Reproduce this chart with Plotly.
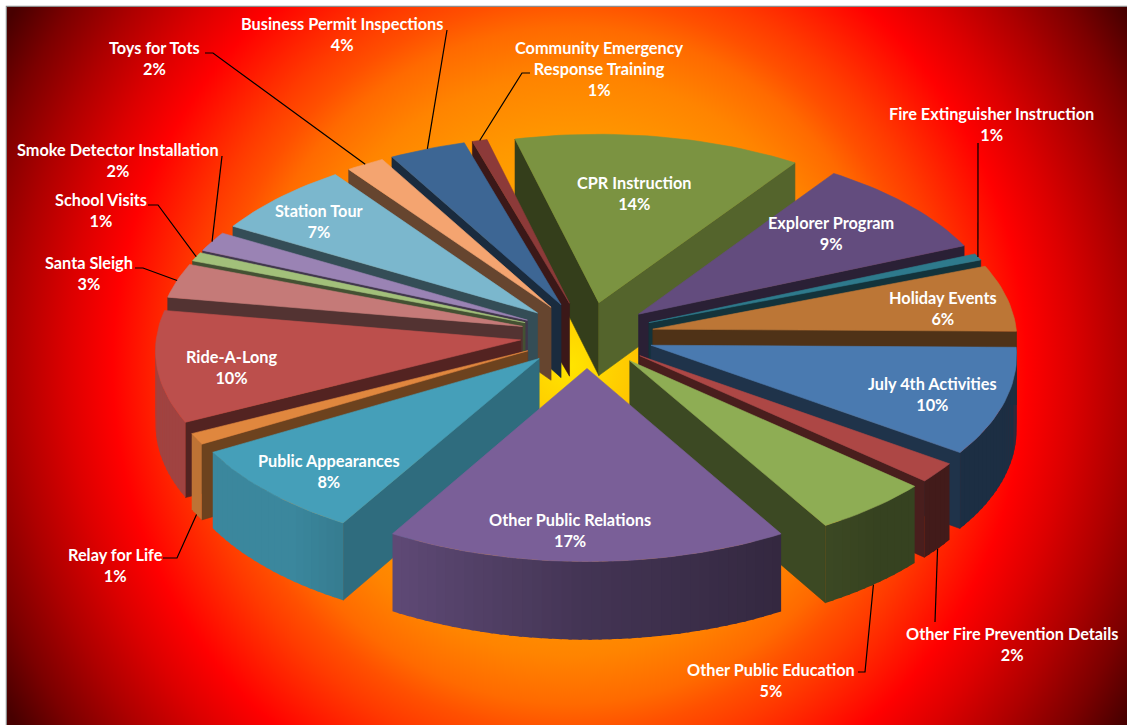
import base64
import numpy as np
import plotly.graph_objects as go

# ---- data ----
names = ["CPR Instruction", "Explorer Program", "Fire Extinguisher Instruction", "Holiday Events",
         "July 4th Activities", "Other Fire Prevention Details", "Other Public Education",
         "Other Public Relations", "Public Appearances", "Relay for Life", "Ride-A-Long",
         "Santa Sleigh", "School Visits", "Smoke Detector Installation", "Station Tour",
         "Toys for Tots", "Business Permit Inspections", "Community Emergency<br>Response Training"]
values = [13.5, 9.0, 0.6, 6.0, 9.6, 1.8, 5.0, 16.9, 8.2, 1.0, 10.0, 3.1, 0.8, 1.8, 6.7, 1.8, 3.6, 0.7]
top_colors = ["#7b9341", "#634c7e", "#2e7a8c", "#bc7636", "#4a7ab0", "#ad4745", "#8ead54", "#7a5f98", "#459fb9",
              "#e0873e", "#bc4f4c", "#c57a78", "#a2c07a", "#9a83b4", "#7bb7cd", "#f4a470", "#3d6694", "#8c3a39"]

# ---- label layout (pixel space of the figure) ----
label_x = [634, 831, 991, 943, 932, 1012, 771, 570, 329, 115, 231, 89, 101, 118, 319, 154, 342, 599]
label_y = [193, 233, 124, 308, 394, 644, 680, 530, 471, 565, 367, 273, 210, 160, 221, 58, 34, 68]
# leader start points for outside labels: slice index -> polyline before reaching the slice
leaders = {
    15: [(205, 53), (213, 53)],
    16: [(447, 30)],
    17: [(530, 73), (522, 73)],
    2: [(978, 143), (978, 200)],
    5: [(935, 622)],
    6: [(858, 672), (865, 672)],
    9: [(163, 558), (177, 558)],
    11: [(135, 268), (143, 268)],
    12: [(148, 205), (158, 205)],
    13: [(222, 156)],
}

# ---- projection of the tilted pie ----
W, H = 1127, 725
CX, CY, RX, RY = 587, 335, 364, 180
K, EXPLODE, DEPTH = 0.05, 0.184, 73.5
START = -14.0


def proj(u, v, drop=0.0):
    s = 1 / (1 - K * v)
    return CX + RX * u * s, CY + RY * v * s + drop * s


def shade(hex_color, f):
    r, g, b = (int(hex_color[i:i + 2], 16) for i in (1, 3, 5))
    return f"rgb({r * f:.0f},{g * f:.0f},{b * f:.0f})"


def polar(t):
    a = np.radians(t)
    return np.sin(a), -np.cos(a)


fig = go.Figure()


def poly(xs, ys, color, lw=0.6):
    fig.add_trace(go.Scatter(x=list(xs), y=list(ys), mode="lines", fill="toself", fillcolor=color,
                             line=dict(color=color, width=lw), hoverinfo="skip", showlegend=False))


total = sum(values)
edges = START + np.concatenate([[0], np.cumsum(values)]) / total * 360
mids = (edges[:-1] + edges[1:]) / 2
order = sorted(range(len(values)), key=lambda i: polar(mids[i])[1])


def cut_factor(n):
    return float(np.interp(n % 360, [0, 100, 112, 135, 155, 360], [.42, .40, .68, .68, .42, .42]))


def rim_factor(t):
    return float(np.interp(t % 360, [90, 140, 180, 220, 270], [.38, .38, .55, .85, .85]))


for i in order:
    a, b = edges[i], edges[i + 1]
    ox, oy = polar(mids[i])
    ox, oy = ox * EXPLODE, oy * EXPLODE
    col = top_colors[i]
    apex = proj(ox, oy)
    ts = np.linspace(a, b, max(3, int((b - a) / 1.5) + 2))
    pts = [polar(t) for t in ts]
    rim = [proj(ox + p[0], oy + p[1]) for p in pts]
    interior = rim[len(rim) // 2]

    # radial cut faces
    for t, sgn in ((a, -1), (b, 1)):
        pu, pv = polar(t)
        R = proj(ox + pu, oy + pv)
        Rd = proj(ox + pu, oy + pv, DEPTH)
        Ad = proj(ox, oy, DEPTH)
        ex, ey = R[0] - apex[0], R[1] - apex[1]
        side_drop = ex * DEPTH
        side_in = ex * (interior[1] - apex[1]) - ey * (interior[0] - apex[0])
        if side_drop * side_in < 0:
            poly([apex[0], R[0], Rd[0], Ad[0], apex[0]], [apex[1], R[1], Rd[1], Ad[1], apex[1]],
                 shade(col, cut_factor(t + sgn * 90)))

    # outer wall, front half only
    lo, hi = max(a, 90), min(b, 270)
    if a >= 270:
        lo, hi = 1, 0
    if hi > lo:
        tw = np.linspace(lo, hi, max(2, int((hi - lo) / 1.5) + 2))
        for j, (t0, t1) in enumerate(zip(tw[:-1], tw[1:])):
            t1b = min(t1 + 0.5, hi)
            p0, p1 = polar(t0), polar(t1b)
            A0 = proj(ox + p0[0], oy + p0[1])
            A1 = proj(ox + p1[0], oy + p1[1])
            B1 = proj(ox + p1[0], oy + p1[1], DEPTH)
            B0 = proj(ox + p0[0], oy + p0[1], DEPTH)
            poly([A0[0], A1[0], B1[0], B0[0], A0[0]], [A0[1], A1[1], B1[1], B0[1], A0[1]],
                 shade(col, rim_factor((t0 + t1) / 2)), lw=0)

    # top face
    poly([apex[0]] + [r[0] for r in rim] + [apex[0]], [apex[1]] + [r[1] for r in rim] + [apex[1]], col)

# leader lines end on the slice they name
for i, path in leaders.items():
    u, v = polar(mids[i])
    front = v > 0.3
    end = proj(u + u * EXPLODE, v + v * EXPLODE, DEPTH if front else 0)
    xs = [p[0] for p in path] + [end[0]]
    ys = [p[1] for p in path] + [end[1]]
    fig.add_trace(go.Scatter(x=xs, y=ys, mode="lines", line=dict(color="black", width=1.2),
                             hoverinfo="skip", showlegend=False))

annotations = [
    dict(x=x, y=y, xref="x", yref="y", text=f"<b>{n}<br>{round(v)}%</b>", showarrow=False,
         xanchor="center", yanchor="middle", align="center",
         font=dict(family="Lato", size=16.3, color="white"))
    for n, v, x, y in zip(names, values, label_x, label_y)
]

# ---- radial gradient backdrop ----
svg = f"""<svg xmlns="http://www.w3.org/2000/svg" width="{W}" height="{H}" viewBox="0 0 {W} {H}" preserveAspectRatio="none">
<defs><radialGradient id="g" gradientUnits="userSpaceOnUse" cx="0" cy="0" r="1" gradientTransform="translate(566 362) scale(658 679)">
<stop offset="0" stop-color="#ffe500"/><stop offset="0.175" stop-color="#ffb000"/><stop offset="0.334" stop-color="#ff9800"/>
<stop offset="0.431" stop-color="#ff8400"/><stop offset="0.503" stop-color="#ff6a00"/><stop offset="0.545" stop-color="#ff5000"/>
<stop offset="0.591" stop-color="#ff3a00"/><stop offset="0.699" stop-color="#ff0000"/><stop offset="0.769" stop-color="#dc0000"/>
<stop offset="0.85" stop-color="#ae0000"/><stop offset="0.93" stop-color="#7c0000"/><stop offset="1" stop-color="#480000"/></radialGradient></defs>
<rect width="{W}" height="{H}" fill="url(#g)"/></svg>"""
src = "data:image/svg+xml;base64," + base64.b64encode(svg.encode()).decode()

fig.update_layout(
    width=W, height=H, margin=dict(l=0, r=0, t=0, b=0), paper_bgcolor="white", plot_bgcolor="rgba(0,0,0,0)",
    xaxis=dict(range=[0, W], visible=False, fixedrange=True),
    yaxis=dict(range=[H, 0], visible=False, fixedrange=True),
    annotations=annotations,
    images=[dict(source=src, xref="x", yref="y", x=7, y=7, sizex=W - 7, sizey=H - 7, sizing="stretch",
                 xanchor="left", yanchor="top", layer="below")],
    shapes=[dict(type="rect", xref="x", yref="y", x0=6.5, y0=6.5, x1=W + 5, y1=H + 5,
                 line=dict(color="#8c8c8c", width=1.5), layer="below")],
)
fig.write_html("out.html", config=dict(displayModeBar=False), post_script="document.body.style.margin='0';document.body.style.overflow='hidden';")
